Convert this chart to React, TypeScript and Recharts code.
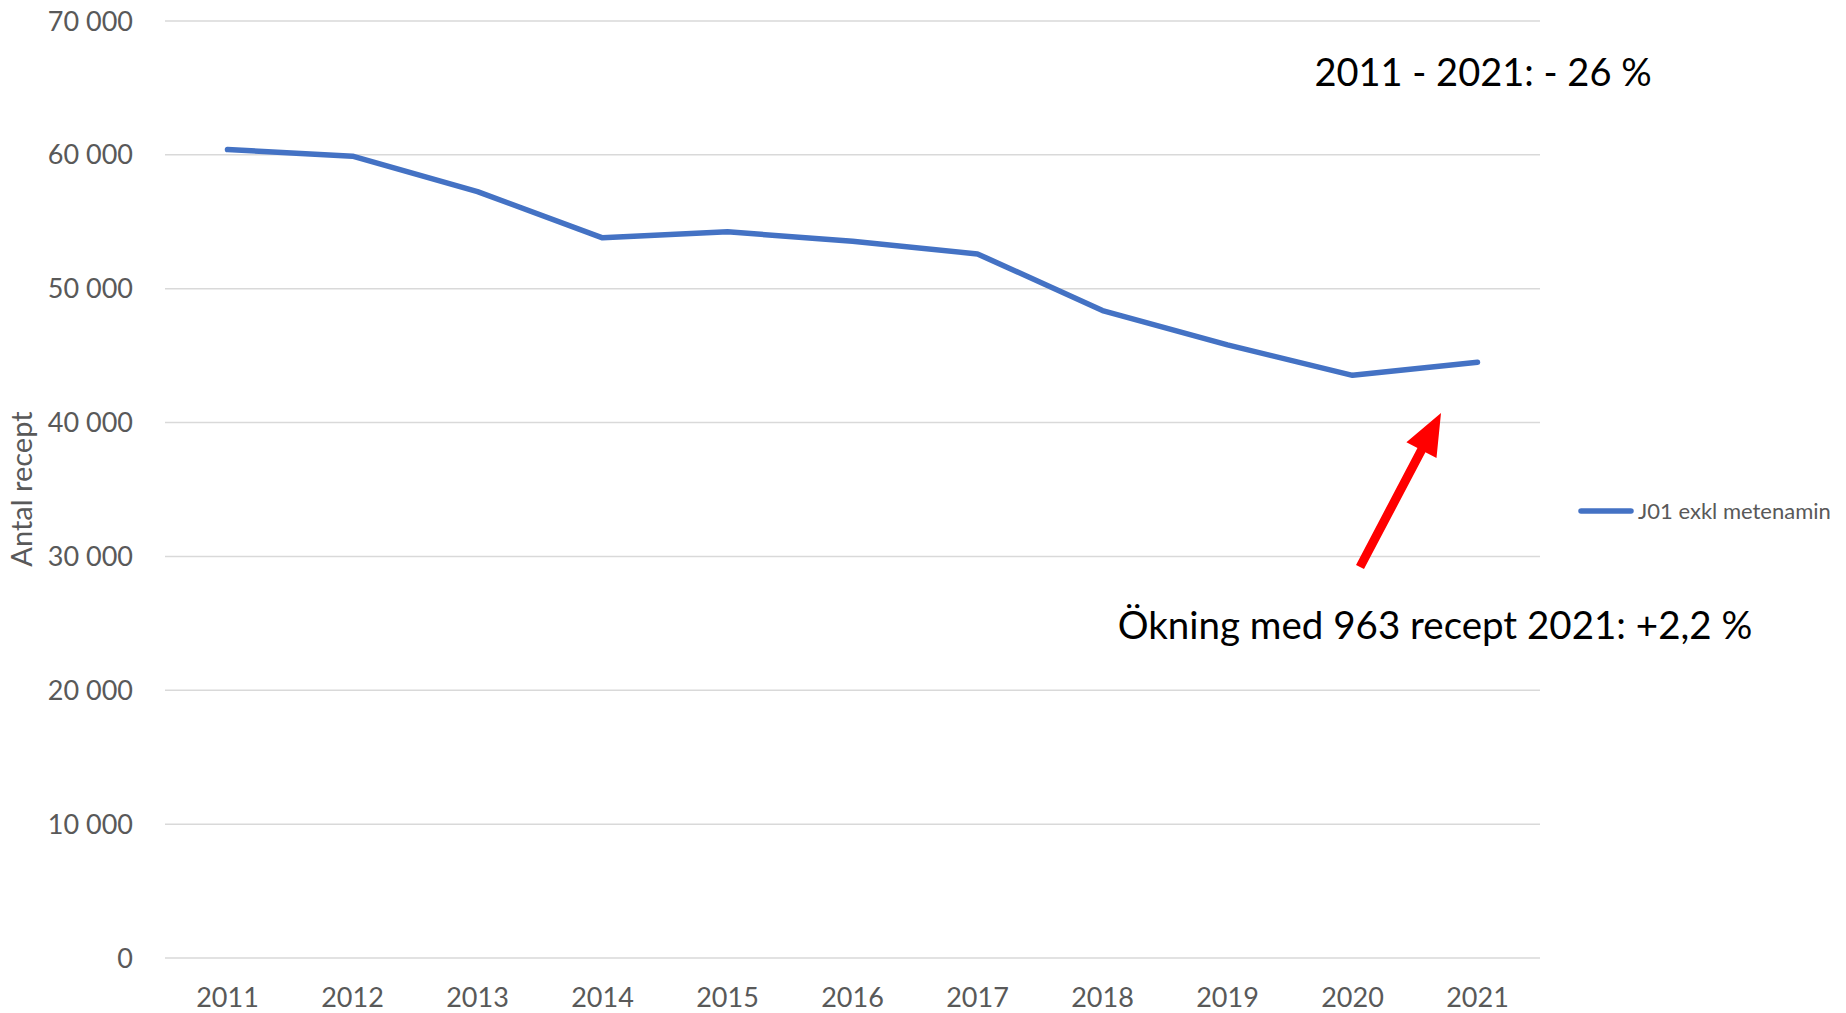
import { CartesianGrid, Legend, Line, LineChart, XAxis, YAxis } from "recharts";

const YEARS = ["2011", "2012", "2013", "2014", "2015", "2016", "2017", "2018", "2019", "2020", "2021"];
const PRESCRIPTIONS = [60400, 59900, 57250, 53800, 54250, 53550, 52600, 48370, 45800, 43530, 44500];
const Y_TICKS = [0, 10000, 20000, 30000, 40000, 50000, 60000, 70000];
const SERIES_NAME = "J01 exkl metenamin";
const Y_TITLE = "Antal recept";
const NOTE_TOTAL = "2011 - 2021: - 26 %";
const NOTE_CHANGE = "Ökning med 963 recept 2021: +2,2 %";

const W = 1846;
const H = 1013;
const BLUE = "#4472C4";
const FONT = "Lato, 'Open Sans', sans-serif";

const chartData = YEARS.map((year, i) => ({ year, value: PRESCRIPTIONS[i] }));

function formatThousands(v: number) {
  return String(v).replace(/\B(?=(\d{3})+(?!\d))/g, " ");
}

// arrow polygon from tail to tip
function arrowPoints(x1: number, y1: number, x2: number, y2: number) {
  const shaft = 9;
  const headLen = 42;
  const headW = 34;
  const dx = x2 - x1;
  const dy = y2 - y1;
  const len = Math.hypot(dx, dy);
  const ux = dx / len;
  const uy = dy / len;
  const nx = -uy;
  const ny = ux;
  const bx = x2 - ux * headLen;
  const by = y2 - uy * headLen;
  const pts = [
    [x1 + nx * shaft / 2, y1 + ny * shaft / 2],
    [bx + nx * shaft / 2, by + ny * shaft / 2],
    [bx + nx * headW / 2, by + ny * headW / 2],
    [x2, y2],
    [bx - nx * headW / 2, by - ny * headW / 2],
    [bx - nx * shaft / 2, by - ny * shaft / 2],
    [x1 - nx * shaft / 2, y1 - ny * shaft / 2],
  ];
  return pts.map((p) => p.join(",")).join(" ");
}

const renderLegend = () => (
  <div style={{ display: "flex", alignItems: "center", fontFamily: FONT, fontSize: 22, color: "#595959" }}>
    <svg width={56} height={10} style={{ marginRight: 4 }}>
      <line x1={3} y1={5} x2={53} y2={5} stroke={BLUE} strokeWidth={5.5} strokeLinecap="round" />
    </svg>
    <span>{SERIES_NAME}</span>
  </div>
);

export default function App() {
  return (
    <div style={{ position: "absolute", left: 0, top: 0, width: W, height: H, background: "#fff" }}>
      <LineChart
        width={W}
        height={H}
        data={chartData}
        margin={{ top: 21, right: 38, bottom: 0, left: 0 }}
      >
        <CartesianGrid vertical={false} stroke="#d9d9d9" strokeWidth={1.5} />
        <XAxis
          dataKey="year"
          axisLine={false}
          tickLine={false}
          height={55}
          padding={{ left: 62.5, right: 62.5 }}
          tickMargin={24}
          tick={{ fontSize: 27, fill: "#595959", fontFamily: FONT }}
        />
        <YAxis
          domain={[0, 70000]}
          ticks={Y_TICKS}
          width={165}
          axisLine={false}
          tickLine={false}
          tickMargin={26}
          tickFormatter={formatThousands}
          tick={{ fontSize: 27, fill: "#595959", fontFamily: FONT }}
        />
        <Legend
          layout="vertical"
          align="right"
          verticalAlign="middle"
          content={renderLegend}
          wrapperStyle={{ left: 1578, top: 497, width: 268 }}
        />
        <Line
          type="linear"
          dataKey="value"
          name={SERIES_NAME}
          stroke={BLUE}
          strokeWidth={5.5}
          strokeLinecap="round"
          strokeLinejoin="round"
          dot={false}
          activeDot={false}
          isAnimationActive={false}
        />
      </LineChart>
      <svg width={W} height={H} style={{ position: "absolute", left: 0, top: 0, pointerEvents: "none" }}>
        <text
          x={20}
          y={489}
          transform="rotate(-90 20 489)"
          textAnchor="middle"
          dominantBaseline="central"
          fontFamily={FONT}
          fontSize={29}
          fill="#595959"
        >
          {Y_TITLE}
        </text>
        <text x={1483} y={71} textAnchor="middle" dominantBaseline="central" fontFamily={FONT} fontSize={38} fill="#000">
          {NOTE_TOTAL}
        </text>
        <text x={1435} y={624} textAnchor="middle" dominantBaseline="central" fontFamily={FONT} fontSize={38.5} fill="#000">
          {NOTE_CHANGE}
        </text>
        <polygon points={arrowPoints(1360, 567, 1441, 413)} fill="#ff0000" />
      </svg>
    </div>
  );
}
